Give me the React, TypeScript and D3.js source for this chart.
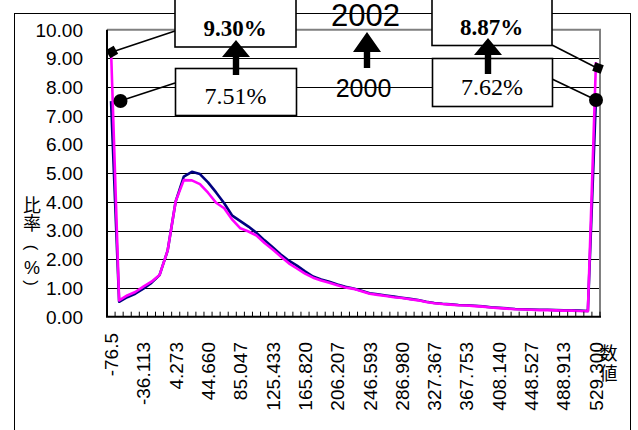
import React from 'react';
import * as d3 from 'd3';

const categories = [
  '-76.5', '-66.403', '-56.307', '-46.210', '-36.113', '-26.017', '-15.920', '-5.823',
  '4.273', '14.370', '24.467', '34.563', '44.660', '54.757', '64.853', '74.950',
  '85.047', '95.143', '105.240', '115.337', '125.433', '135.530', '145.627', '155.723',
  '165.820', '175.917', '186.013', '196.110', '206.207', '216.303', '226.400', '236.497',
  '246.593', '256.690', '266.787', '276.883', '286.980', '297.077', '307.173', '317.270',
  '327.367', '337.463', '347.560', '357.657', '367.753', '377.850', '387.947', '398.043',
  '408.140', '418.237', '428.333', '438.430', '448.527', '458.623', '468.720', '478.817',
  '488.913', '499.010', '509.107', '519.203', '529.300',
];

const tickLabels = [
  '-76.5', '-36.113', '4.273', '44.660', '85.047', '125.433', '165.820', '206.207',
  '246.593', '286.980', '327.367', '367.753', '408.140', '448.527', '488.913', '529.300',
];

const series2000 = [
  7.51, 0.52, 0.68, 0.80, 0.98, 1.18, 1.45, 2.30, 4.02, 4.88,
  5.05, 4.97, 4.68, 4.33, 3.95, 3.52, 3.33, 3.14, 2.92, 2.66,
  2.42, 2.17, 1.95, 1.78, 1.58, 1.40, 1.30, 1.22, 1.12, 1.04,
  0.98, 0.90, 0.82, 0.78, 0.74, 0.70, 0.66, 0.62, 0.58, 0.52,
  0.48, 0.45, 0.43, 0.41, 0.40, 0.38, 0.36, 0.33, 0.31, 0.29,
  0.27, 0.26, 0.25, 0.24, 0.24, 0.23, 0.22, 0.22, 0.21, 0.20,
  7.62,
];

const series2002 = [
  9.30, 0.57, 0.74, 0.86, 1.05, 1.22, 1.45, 2.30, 4.02, 4.76,
  4.75, 4.62, 4.32, 3.97, 3.78, 3.38, 3.08, 2.97, 2.83, 2.57,
  2.34, 2.10, 1.86, 1.68, 1.50, 1.36, 1.26, 1.18, 1.10, 1.02,
  0.97, 0.89, 0.80, 0.76, 0.72, 0.68, 0.65, 0.61, 0.57, 0.51,
  0.47, 0.44, 0.42, 0.40, 0.39, 0.37, 0.35, 0.32, 0.30, 0.28,
  0.26, 0.25, 0.24, 0.23, 0.23, 0.22, 0.21, 0.21, 0.20, 0.19,
  8.87,
];

const yTicks = [0, 1, 2, 3, 4, 5, 6, 7, 8, 9, 10];
const seriesNames = ['2000', '2002'];
const yTitleChars = ['比', '率', '(', '%', ')'];
const xTitleChars = ['数', '値'];

const W = 638;
const H = 430;
const PL = 107;
const PR = 600;
const PT = 29.7;
const PB = 316.7;

const SANS = '"Liberation Sans", Arial, sans-serif';
const SERIF = '"Liberation Serif", "Times New Roman", serif';
const CJK = '"Noto Sans CJK JP", "Noto Sans", sans-serif';

function Arrow({ cx, tip, base, bottom }: { cx: number; tip: number; base: number; bottom: number }) {
  const hw = 14;
  const sw = 3.2;
  const pts = [
    [cx, tip], [cx + hw, base], [cx + sw, base], [cx + sw, bottom],
    [cx - sw, bottom], [cx - sw, base], [cx - hw, base],
  ];
  return <polygon points={pts.map((p) => p.join(',')).join(' ')} fill="#000" />;
}

export default function App() {
  const x = d3.scalePoint<string>().domain(categories).range([PL, PR]).padding(0.5);
  const y = d3.scaleLinear().domain([0, 10]).range([PB, PT]);
  const step = x.step();

  const line = d3
    .line<number>()
    .x((_, i) => x(categories[i]) as number)
    .y((d) => y(d));

  const boundaries = d3.range(categories.length + 1).map((k) => PL + k * step);

  const firstLabel = `${series2000[0].toFixed(2)}%`;
  const firstLabel2 = `${series2002[0].toFixed(2)}%`;
  const lastLabel = `${series2000[series2000.length - 1].toFixed(2)}%`;
  const lastLabel2 = `${series2002[series2002.length - 1].toFixed(2)}%`;

  const yTitleY = [205.5, 223.5, 247.5, 267.5, 283];

  return (
    <svg
      width={W}
      height={H}
      viewBox={`0 0 ${W} ${H}`}
      style={{ position: 'absolute', left: 0, top: 0, background: '#fff' }}
    >
      <rect x={0} y={0} width={W} height={H} fill="#fff" />
      {/* outer frame */}
      <rect x={14.5} y={13.5} width={616} height={430} fill="none" stroke="#000" strokeWidth={1} />

      {/* gridlines */}
      {yTicks.slice(1, -1).map((t) => (
        <line key={t} x1={PL} x2={PR} y1={Math.round(y(t)) + 0.5} y2={Math.round(y(t)) + 0.5} stroke="#000" strokeWidth={1} />
      ))}
      {/* plot area border (top/right) */}
      <path d={`M${PL},${PT} H${PR} V${PB}`} fill="none" stroke="#808080" strokeWidth={2} />

      {/* y tick labels */}
      {yTicks.map((t) => (
        <text key={t} x={83} y={y(t)} dy="0.36em" textAnchor="end" fontFamily={SANS} fontSize={19} fill="#000">
          {t.toFixed(2)}
        </text>
      ))}

      {/* series */}
      <path d={line(series2000) || ''} fill="none" stroke="#000080" strokeWidth={2.6} strokeLinejoin="round" />
      <path d={line(series2002) || ''} fill="none" stroke="#FF00FF" strokeWidth={2.6} strokeLinejoin="round" />

      {/* axes */}
      <line x1={PL} x2={PL} y1={PT} y2={PB} stroke="#000" strokeWidth={2} />
      <line x1={PL - 1} x2={PR + 1} y1={PB} y2={PB} stroke="#000" strokeWidth={2} />
      {boundaries.map((bx, k) => (
        <line key={k} x1={bx} x2={bx} y1={PB} y2={PB - 5} stroke="#000" strokeWidth={1} />
      ))}

      {/* x tick labels */}
      {categories.map((c, i) =>
        tickLabels.includes(c) ? (
          <text
            key={c}
            transform={`translate(${x(c)},${i === 0 ? 333 : 342}) rotate(-90)`}
            dy="0.36em"
            textAnchor="end"
            fontFamily={SANS}
            fontSize={19}
            fill="#000"
          >
            {c}
          </text>
        ) : null
      )}

      {/* axis titles */}
      {yTitleChars.map((ch, i) => {
        const isParen = ch === '(' || ch === ')';
        const cy = yTitleY[i];
        return (
          <text
            key={i}
            x={32}
            y={cy}
            dy="0.36em"
            textAnchor="middle"
            transform={isParen ? `rotate(90,32,${cy})` : undefined}
            fontFamily={ch === '%' || isParen ? SANS : CJK}
            fontSize={isParen ? 17 : 18}
            fill="#000"
          >
            {ch}
          </text>
        );
      })}
      {xTitleChars.map((ch, i) => (
        <text key={i} x={608.5} y={354 + i * 20} dy="0.36em" textAnchor="middle" fontFamily={CJK} fontSize={18} fill="#000">
          {ch}
        </text>
      ))}

      {/* leader lines and markers */}
      <g stroke="#000" strokeWidth={1.6}>
        <line x1={175} y1={31} x2={112} y2={52} />
        <line x1={175} y1={83} x2={120} y2={101} />
        <line x1={552} y1={45} x2={597} y2={68} />
        <line x1={552} y1={79} x2={596} y2={100} />
      </g>
      <rect x={-4.5} y={-4.5} width={9} height={9} fill="#000" transform="translate(112,52) rotate(-30)" />
      <rect x={-4.5} y={-4.5} width={9} height={9} fill="#000" transform="translate(598,68) rotate(20)" />
      <circle cx={120.5} cy={101} r={7} fill="#000" />
      <circle cx={596} cy={100} r={7} fill="#000" />

      {/* boxes */}
      <g fill="#fff" stroke="#000" strokeWidth={1.6}>
        <rect x={175} y={-2} width={121} height={49} />
        <rect x={175.5} y={68.5} width={121} height={47} />
        <rect x={432} y={-2} width={120} height={47.5} />
        <rect x={432.5} y={58.5} width={120} height={48} />
      </g>
      <text x={235} y={36} textAnchor="middle" fontFamily={SERIF} fontWeight="bold" fontSize={23} fill="#000">{firstLabel2}</text>
      <text x={235.5} y={104} textAnchor="middle" fontFamily={SERIF} fontSize={24} fill="#000">{firstLabel}</text>
      <text x={491.5} y={34.5} textAnchor="middle" fontFamily={SERIF} fontWeight="bold" fontSize={23} fill="#000">{lastLabel2}</text>
      <text x={492} y={94.5} textAnchor="middle" fontFamily={SERIF} fontSize={24} fill="#000">{lastLabel}</text>

      {/* year labels */}
      <text x={365.5} y={26} textAnchor="middle" fontFamily={SANS} fontSize={31} fill="#000">{seriesNames[1]}</text>
      <text x={363.5} y={96.7} textAnchor="middle" fontFamily={SANS} fontSize={25} fill="#000">{seriesNames[0]}</text>

      {/* arrows */}
      <Arrow cx={236} tip={40} base={57} bottom={75} />
      <Arrow cx={367} tip={32} base={52} bottom={68} />
      <Arrow cx={488} tip={38} base={55} bottom={74} />
    </svg>
  );
}
